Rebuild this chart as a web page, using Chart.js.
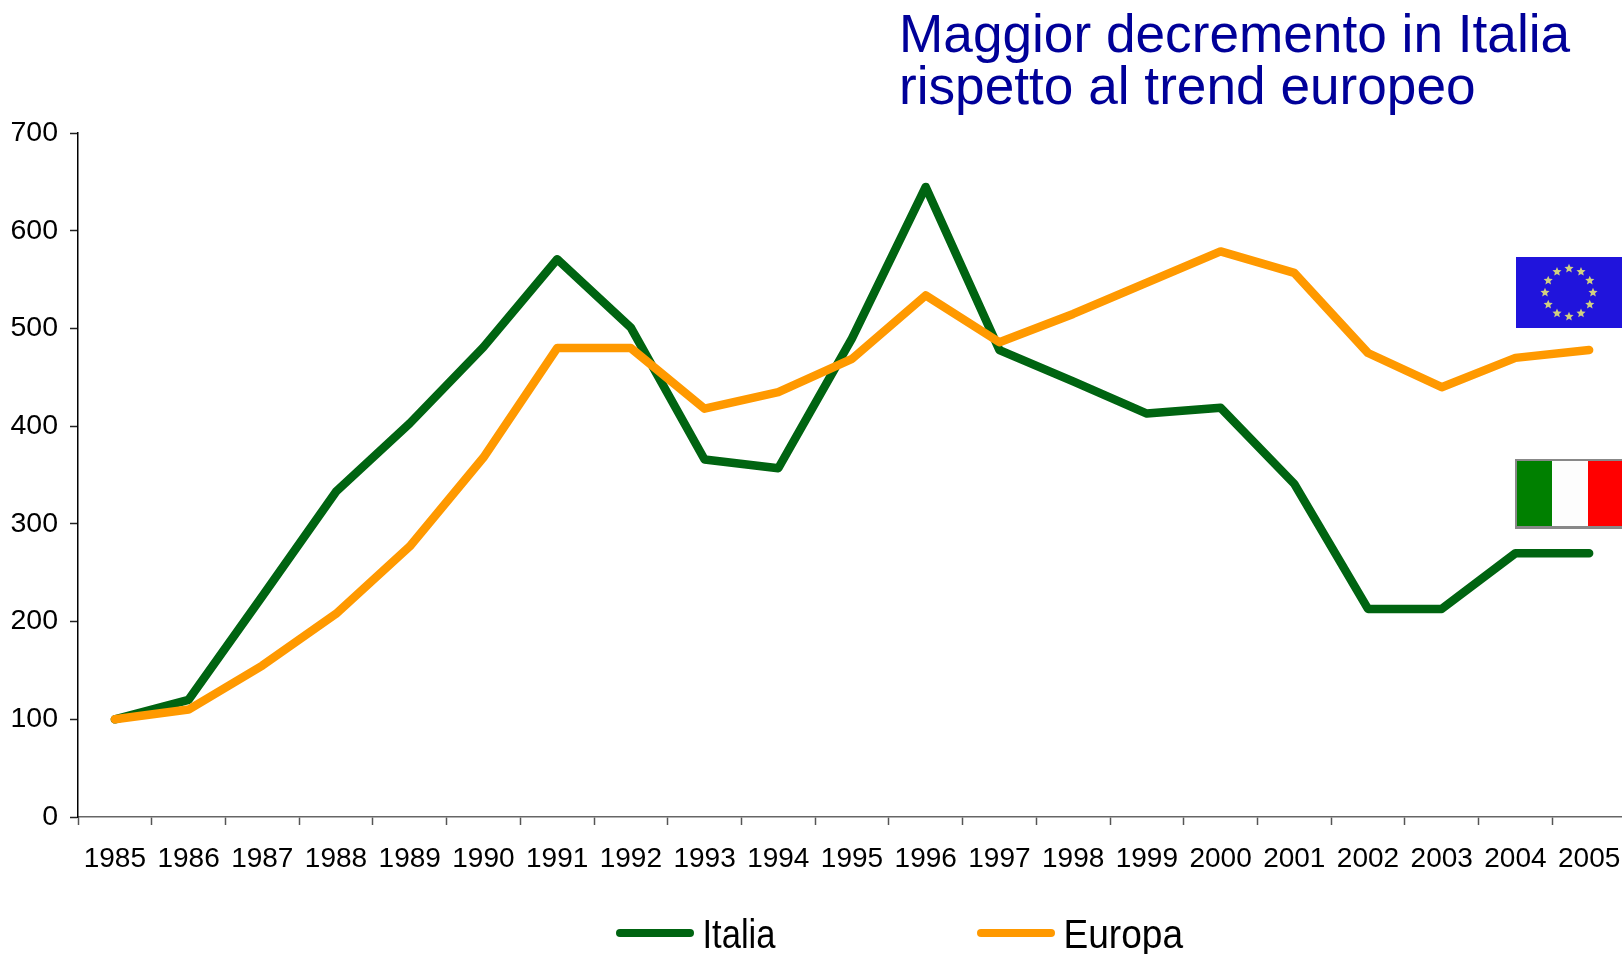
<!DOCTYPE html>
<html><head><meta charset="utf-8">
<style>html,body{margin:0;padding:0;background:#fff}canvas{display:block}</style>
<script src="https://cdn.jsdelivr.net/npm/chart.js@4"></script>
</head><body><canvas id="c" width="1622" height="954"></canvas>
<script>
const years=['1985','1986','1987','1988','1989','1990','1991','1992','1993','1994','1995','1996','1997','1998','1999','2000','2001','2002','2003','2004','2005'];
const italia=[100,120,226,333,403,481,571,501,366,357,490,645,478,446,413,419,341,213,213,270,270];
const europa=[100,110,155,208,277,368,480,480,418,435,469,534,486,515,547,579,557,475,440,470,478];
const titleLines=['Maggior decremento in Italia','rispetto al trend europeo'];

const SANS='"Liberation Sans",Arial,sans-serif';
function star(ctx,cx,cy,r){
  ctx.beginPath();
  for(let i=0;i<10;i++){
    const a=-Math.PI/2+i*Math.PI/5, q=i%2?r*0.45:r;
    ctx.lineTo(cx+q*Math.cos(a),cy+q*Math.sin(a));
  }
  ctx.closePath();ctx.fill();
}
const decor={
  id:'decor',
  afterLayout(chart){
    chart.titleBlock.left=899;
    const x=chart.scales.x;
    x.right=1626;x.width=x.right-x.left;x.configure();
  },
  afterDraw(chart){
    const ctx=chart.ctx;ctx.save();
    ctx.fillStyle='#2014dc';ctx.fillRect(1516,257,106,71);
    ctx.fillStyle='#d0d080';
    for(let i=0;i<12;i++){
      const a=i*Math.PI/6;
      star(ctx,1569+24*Math.sin(a),292.5-24*Math.cos(a),4.8);
    }
    ctx.fillStyle='#888';ctx.fillRect(1515,459,107,70);
    ctx.fillStyle='#008000';ctx.fillRect(1517,461,35,65);
    ctx.fillStyle='#fdfdfd';ctx.fillRect(1552,461,36,65);
    ctx.fillStyle='#ff0000';ctx.fillRect(1588,461,34,65);
    const items=[[620,690,702.5,73],[981,1051,1063.5,119.5]];
    chart.data.datasets.forEach((d,i)=>{
      const it=items[i];
      ctx.strokeStyle=d.borderColor;ctx.lineWidth=8;ctx.lineCap='round';
      ctx.beginPath();ctx.moveTo(it[0],933);ctx.lineTo(it[1],933);ctx.stroke();
      ctx.fillStyle='#000';ctx.font='41px '+SANS;
      ctx.textBaseline='alphabetic';ctx.textAlign='left';
      ctx.fillText(d.label,it[2],948,it[3]);
    });
    ctx.restore();
  }
};
new Chart(document.getElementById('c'),{
  type:'line',
  data:{labels:years,datasets:[
    {label:'Italia',data:italia,borderColor:'#006411',backgroundColor:'#006411',order:2},
    {label:'Europa',data:europa,borderColor:'#ff9900',backgroundColor:'#ff9900',order:1}
  ]},
  options:{
    responsive:false,animation:false,devicePixelRatio:1,
    layout:{padding:0},
    elements:{point:{radius:0},line:{borderWidth:8.5,tension:0,borderCapStyle:'round',borderJoinStyle:'round'}},
    plugins:{
      legend:{display:false},tooltip:{enabled:false},
      title:{display:true,text:titleLines,align:'start',color:'#000099',
        font:{family:SANS,size:53.2,weight:'normal',lineHeight:0.97},
        padding:{top:12,bottom:18}}
    },
    scales:{
      x:{offset:true,
        grid:{display:true,offset:true,drawOnChartArea:false,drawTicks:true,tickLength:8,color:'#555',tickWidth:1.5},
        border:{display:true,color:'#666',width:1.5},
        ticks:{color:'#000',font:{family:SANS,size:28},padding:17,maxRotation:0,autoSkip:false},
        afterFit(s){s.height=137;s.paddingLeft=0;s.paddingRight=0;}
      },
      y:{min:0,max:700,
        grid:{display:true,drawOnChartArea:false,tickLength:8,color:'#222',tickWidth:1.5},
        border:{display:true,color:'#000',width:1.5},
        ticks:{stepSize:100,color:'#000',font:{family:SANS,size:28.5},padding:12},
        afterFit(s){s.width=78;}
      }
    }
  },
  plugins:[decor]
});
</script></body></html>
